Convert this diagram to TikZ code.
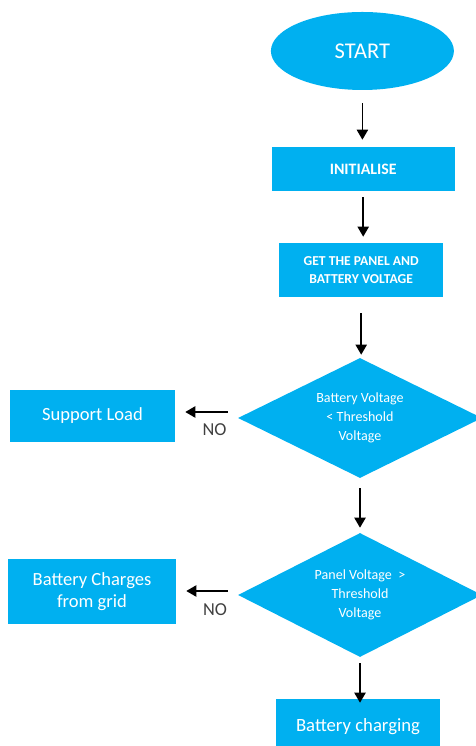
\documentclass[tikz,border=0pt]{standalone}
\usepackage{fontspec}
\setmainfont{Carlito}
\usetikzlibrary{shapes.geometric,arrows.meta}
\definecolor{flowblue}{HTML}{00B0F0}
\definecolor{notext}{HTML}{404040}
\tikzset{
	blockbox/.style={rectangle, fill=flowblue, text=white, inner sep=0pt, align=center},
	termbox/.style={ellipse, fill=flowblue, text=white, inner sep=0pt},
	testbox/.style={diamond, fill=flowblue, text=white, inner sep=0pt, aspect=2, align=center, font=\fontsize{10}{13.5}\selectfont},
	flowarrow/.style={-{Triangle[length=0.25cm,width=0.28cm]}, line width=1.1pt, black},
	nolabel/.style={text=notext, inner sep=0pt, font=\fontsize{13}{15}\selectfont}
}

\begin{document}
\begin{tikzpicture}
			%%%%% START %%%%%
			
			\useasboundingbox (0, 0) rectangle (11.9, 18.65);
			\clip (0, 0) rectangle (11.9, 18.65);
			
			\node[termbox, minimum width=4.575cm, minimum height=1.95cm, font=\fontsize{16}{18}\selectfont] (start) at (9.06, 17.375) {START};
			\node[blockbox, minimum width=4.575cm, minimum height=1.1cm, font=\bfseries\fontsize{11.3}{13}\selectfont] (init) at (9.08, 14.425) {INITIALISE};
			\node[blockbox, minimum width=4.1cm, minimum height=1.35cm, font=\bfseries\fontsize{9.7}{12.8}\selectfont] (getv) at (9.03, 11.9) {GET THE PANEL AND\\BATTERY VOLTAGE};
			
			\node[testbox, minimum width=6.1cm, minimum height=3.0cm] (battest) at (9.0, 8.2) {Battery Voltage\\< Threshold\\Voltage};
			\node[blockbox, minimum width=4.125cm, minimum height=1.3cm, font=\fontsize{13.2}{16}\selectfont] (load) at (2.3125, 8.25) {Support Load};
			
			\node[testbox, minimum width=6.1cm, minimum height=3.1cm] (paneltest) at (9.0, 3.775) {Panel Voltage~~>\\Threshold\\Voltage};
			\node[blockbox, minimum width=4.2cm, minimum height=1.625cm, font=\fontsize{13.2}{16}\selectfont] (grid) at (2.3, 3.8625) {Battery Charges\\from grid};
			
			\node[blockbox, minimum width=4.1cm, minimum height=1.4cm, font=\fontsize{13.3}{16}\selectfont] (charge) at (8.95, 0.475) {Battery charging};
			
			\draw[flowarrow, shorten <=0.325cm, shorten >=0.175cm] (start.south) -- (start.south |- init.north);
			\draw[flowarrow, shorten <=0.15cm, shorten >=0.15cm] (init.south) -- (init.south |- getv.north);
			\draw[flowarrow, shorten <=0.4cm, shorten >=0.075cm] (getv.south) -- (getv.south |- battest.north);
			\draw[flowarrow, shorten <=0.25cm, shorten >=0.125cm] (battest.south) -- (battest.south |- paneltest.north);
			\draw[flowarrow, shorten <=0.15cm, shorten >=-0.1cm] (paneltest.south) -- (paneltest.south |- charge.north);
			
			\draw[flowarrow, shorten <=0.25cm, shorten >=0.25cm] ([yshift=0.15cm]battest.west) -- ([yshift=0.15cm]battest.west -| load.east)
				node[nolabel, pos=0.37, yshift=-0.45cm] {NO};
			\draw[flowarrow, shorten <=0.25cm, shorten >=0.25cm] ([yshift=0.1cm]paneltest.west) -- ([yshift=0.1cm]paneltest.west -| grid.east)
				node[nolabel, pos=0.37, yshift=-0.475cm] {NO};
			
			%%%%% END %%%%%
\end{tikzpicture}
\end{document}
